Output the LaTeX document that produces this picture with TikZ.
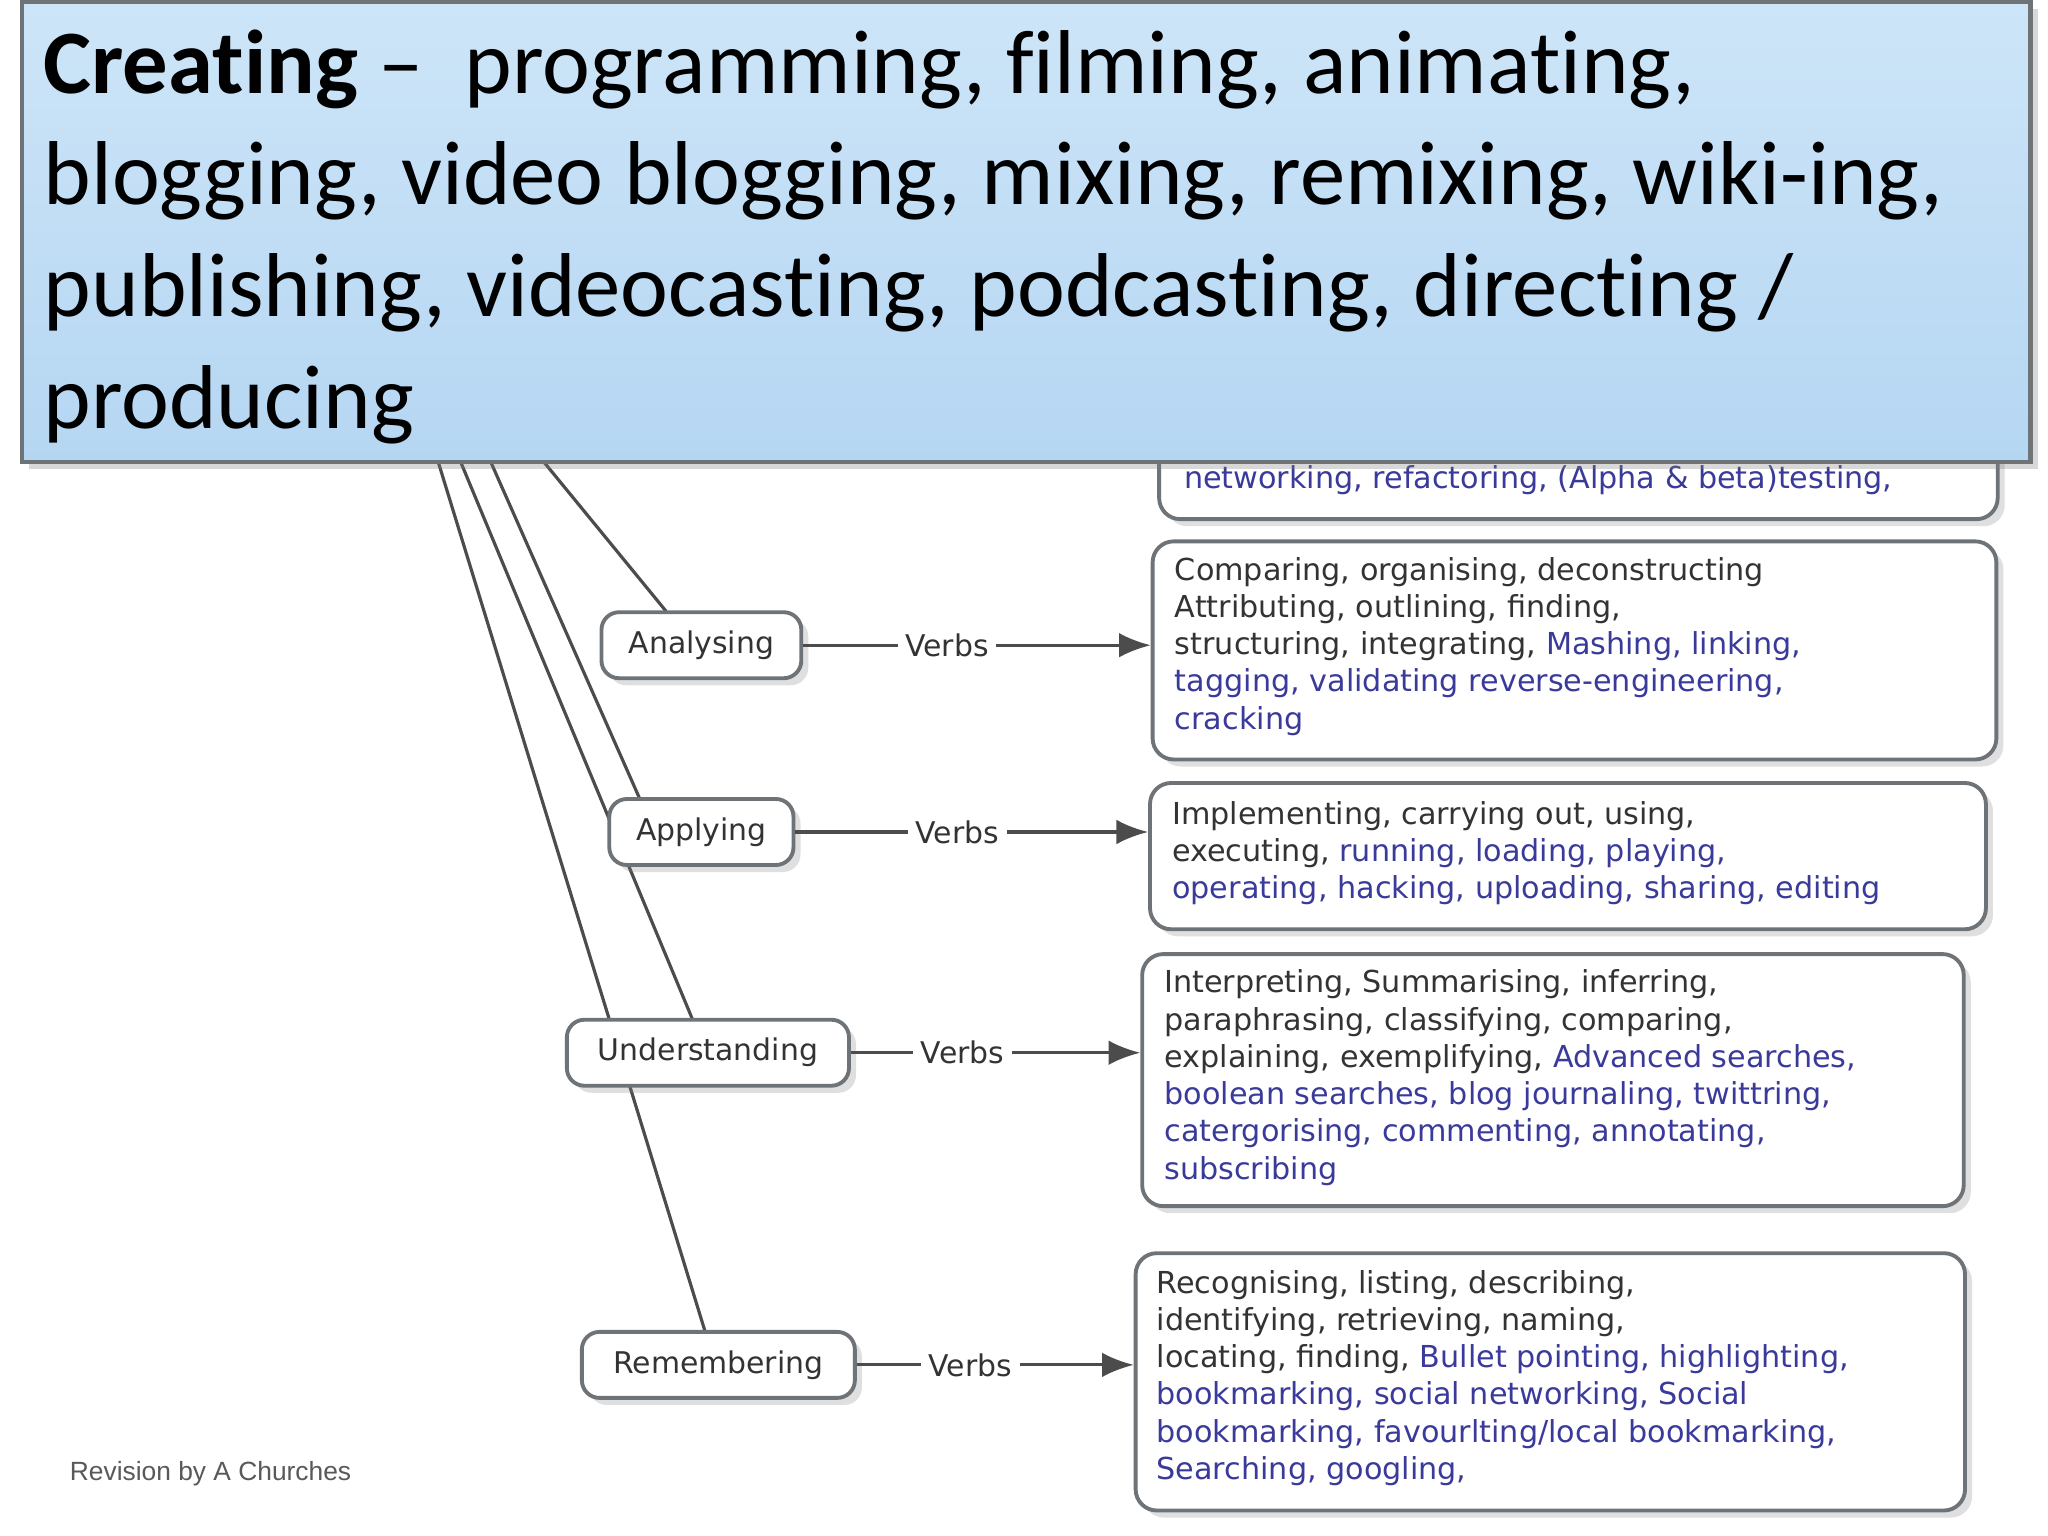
\documentclass[tikz,border=0pt]{standalone}
\usepackage{fontspec}
\setmainfont{Carlito}[Ligatures=NoCommon]
\newfontfamily\dv{DejaVu Sans}
\usetikzlibrary{shadows,arrows.meta}
\definecolor{bw}{HTML}{3A3A9A}
\definecolor{bordc}{HTML}{6E7378}
\definecolor{bantop}{HTML}{CDE5F8}
\definecolor{banbot}{HTML}{B5D6F2}
\begin{document}
\begin{tikzpicture}[x=0.013061cm,y=-0.013061cm,
  rbox/.style={draw=bordc,line width=1.1pt,rounded corners=6pt,fill=white,drop shadow={opacity=0.25,shadow xshift=2pt,shadow yshift=-2pt},anchor=north west},
  lvl/.style={draw=bordc,line width=1.1pt,rounded corners=5pt,fill=white,font=\dv\fontsize{8.5}{10}\selectfont,text=black!80,inner sep=5pt,minimum height=0.66cm,drop shadow={opacity=0.25,shadow xshift=2pt,shadow yshift=-2pt}},
  vtxt/.style={anchor=north west,align=left,inner sep=0pt,font=\dv\fontsize{8.6}{10.6}\selectfont,text=black!80},
  verb/.style={font=\dv\fontsize{8.5}{10}\selectfont,text=black!80,fill=white,inner sep=2pt},
  con/.style={draw=black!70,line width=0.9pt},
  arr/.style={con,-{Latex[length=9pt,width=7pt]}}]
\useasboundingbox (0,0) rectangle (1568,1176);
\fill[white] (0,0) rectangle (1568,1176);
% boxes
\node[rbox,minimum width=642*0.013061cm,minimum height=160*0.013061cm] (b0) at (886,236) {};
\node[vtxt] (t0) at (906,356) {\color{bw}networking, refactoring, (Alpha \& beta)testing,};
\node[rbox,minimum width=646*0.013061cm,minimum height=167*0.013061cm] (b1) at (881,413) {};
\node[vtxt] (t1) at (899,426) {Comparing, organising, deconstructing\\Attributing, outlining, finding,\\structuring, integrating, {\color{bw}Mashing, linking,}\\{\color{bw}tagging, validating reverse-engineering,}\\{\color{bw}cracking}};
\node[rbox,minimum width=640*0.013061cm,minimum height=112*0.013061cm] (b2) at (879,598) {};
\node[vtxt] (t2) at (897,613) {Implementing, carrying out, using,\\executing, {\color{bw}running, loading, playing,}\\{\color{bw}operating, hacking, uploading, sharing, editing}};
\node[rbox,minimum width=629*0.013061cm,minimum height=193*0.013061cm] (b3) at (873,729) {};
\node[vtxt] (t3) at (891,742) {Interpreting, Summarising, inferring,\\paraphrasing, classifying, comparing,\\explaining, exemplifying, {\color{bw}Advanced searches,}\\{\color{bw}boolean searches, blog journaling, twittring,}\\{\color{bw}catergorising, commenting, annotating,}\\{\color{bw}subscribing}};
\node[rbox,minimum width=635*0.013061cm,minimum height=197*0.013061cm] (b4) at (868,958) {};
\node[vtxt] (t4) at (885,972) {Recognising, listing, describing,\\identifying, retrieving, naming,\\locating, finding, {\color{bw}Bullet pointing, highlighting,}\\{\color{bw}bookmarking, social networking, Social}\\{\color{bw}bookmarking, favourlting/local bookmarking,}\\{\color{bw}Searching, googling,}};
% lines from above
\coordinate (c1) at (415,352);
\coordinate (c2) at (375,352);
\coordinate (c3) at (352,352);
\coordinate (c4) at (335,352);
\coordinate (e1) at (510,468);
\coordinate (e2) at (490,612);
\coordinate (e3) at (530,780);
\coordinate (e4) at (540,1020);
\draw[con] (c1) -- (e1);
\draw[con] (c2) -- (e2);
\draw[con] (c3) -- (e3);
\draw[con] (c4) -- (e4);
% level nodes
\node[lvl,minimum width=153*0.013061cm] (an) at (537,494) {Analysing};
\node[lvl,minimum width=141*0.013061cm] (ap) at (537,637) {Applying};
\node[lvl,minimum width=216*0.013061cm] (un) at (542,806) {Understanding};
\node[lvl,minimum width=209*0.013061cm] (re) at (550,1045) {Remembering};
\node[verb] (v1) at (725,494) {Verbs};
\node[verb] (v2) at (733,637) {Verbs};
\node[verb] (v3) at (737,806) {Verbs};
\node[verb] (v4) at (743,1045) {Verbs};
\draw[con] (an) -- (v1); \draw[arr] (v1) -- (b1.west|-v1);
\draw[con] (ap) -- (v2); \draw[arr] (v2) -- (b2.west|-v2);
\draw[con] (un) -- (v3); \draw[arr] (v3) -- (b3.west|-v3);
\draw[con] (re) -- (v4); \draw[arr] (v4) -- (b4.west|-v4);
\node[anchor=west,font=\fontspec{Liberation Sans}\fontsize{7.5}{9}\selectfont,text=black!65,inner sep=0pt] (rev) at (53,1128) {Revision by A Churches};
% banner
\node[anchor=north west,draw=bordc,line width=1.2pt,top color=bantop,bottom color=banbot,minimum width=1538*0.013061cm,minimum height=352*0.013061cm,drop shadow={opacity=0.3,shadow xshift=2pt,shadow yshift=-2pt}] (ban) at (15,0) {};
\node[anchor=north west,align=left,inner sep=0pt,font=\fontsize{25.8}{31.8}\selectfont] (bt) at (33,22) {\textbf{Creating} –\ \ programming, filming, animating,\\blogging, video blogging, mixing, remixing, wiki-ing,\\publishing, videocasting, podcasting, directing /\\producing};
\end{tikzpicture}
\end{document}
